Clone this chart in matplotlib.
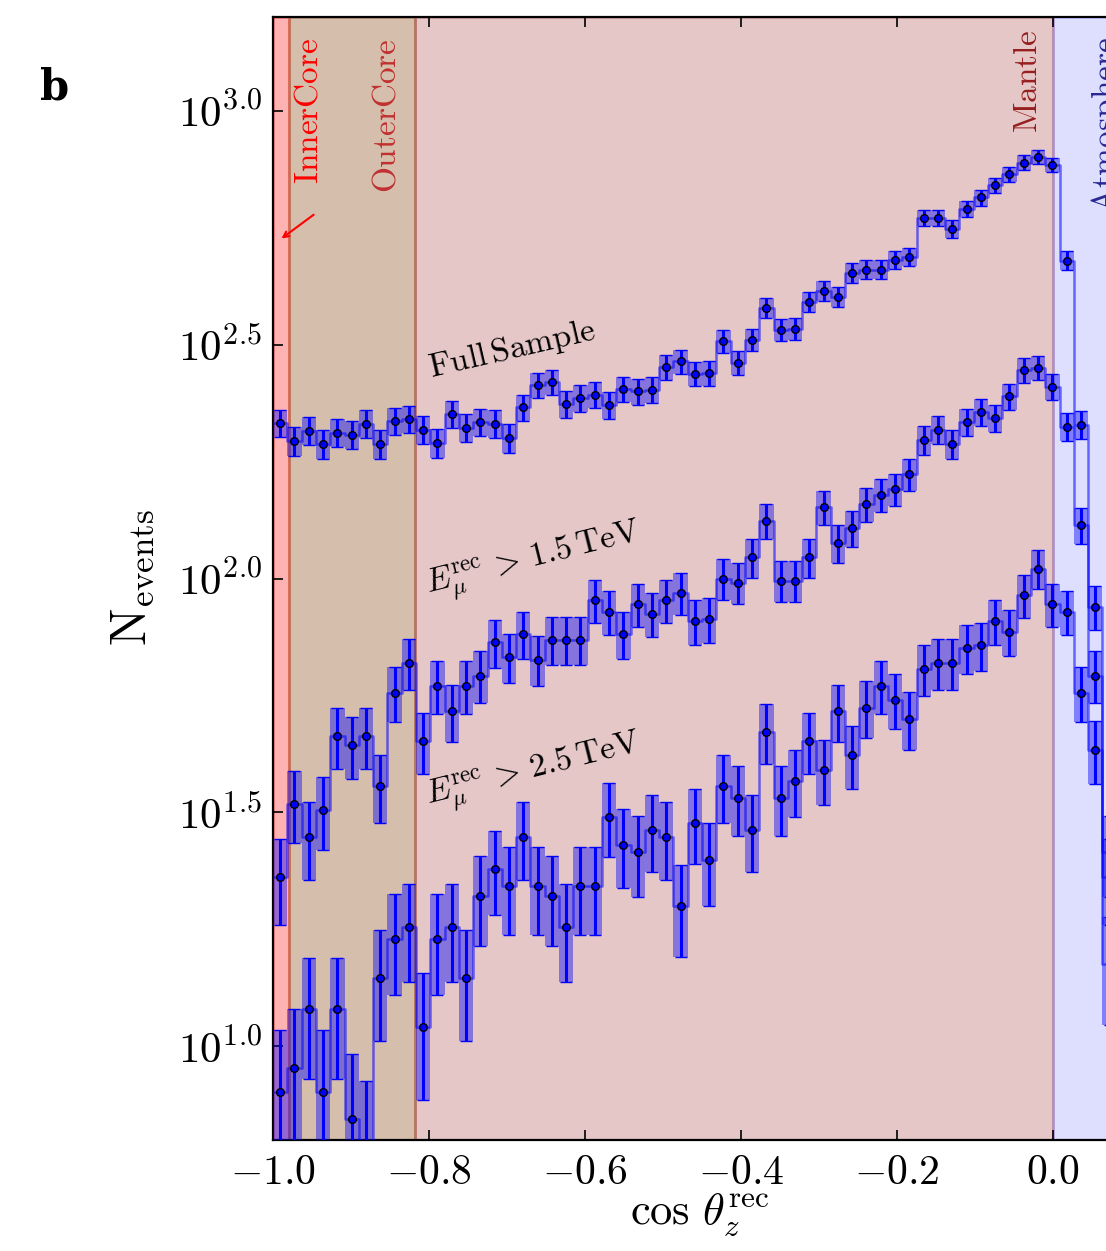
import matplotlib.pyplot as plt
import numpy as np
from matplotlib.ticker import NullLocator

plt.rcParams['mathtext.fontset'] = 'cm'
plt.rcParams['font.family'] = ['DejaVu Serif']

# 60 uniform bins in cos(zenith) from -1 to 0.1, only the first 59 are in view
edges = np.linspace(-1.0, 0.1, 61)

full_sample = [215, 197, 207, 194, 205, 203, 214, 194, 217, 219,
               208, 195, 225, 210, 216, 214, 200, 232, 259, 263,
               236, 243, 247, 235, 254, 251, 253, 283, 291, 274,
               275, 322, 289, 324, 379, 340, 342, 390, 412, 400,
               450, 457, 457, 480, 487, 590, 590, 559, 617, 652,
               692, 731, 774, 797, 766, 478, 213, 87, 26]
e_gt_15 = [23, 33, 28, 32, 46, 44, 46, 36, 57, 66,
           45, 59, 52, 59, 62, 73, 68, 76, 67, 74,
           74, 74, 90, 85, 76, 88, 84, 90, 93, 81,
           82, 100, 98, 111, 133, 99, 99, 111, 142, 119,
           128, 144, 151, 155, 167, 198, 208, 194, 216, 227,
           220, 245, 279, 282, 257, 211, 130, 62, 23]
e_gt_25 = [8, 9, 12, 8, 12, 7, 6, 14, 17, 18,
           11, 17, 18, 14, 21, 24, 22, 28, 22, 21,
           18, 22, 22, 31, 27, 26, 29, 28, 20, 30,
           25, 36, 34, 29, 47, 34, 37, 45, 39, 52,
           42, 53, 59, 55, 50, 64, 66, 66, 71, 72,
           81, 77, 92, 105, 88, 85, 57, 43, 15]

regions = [(-1.0, -0.98, 'red', 0.3),
           (-0.98, -0.8185, 'saddlebrown', 0.35),
           (-0.8185, 0.0, 'darkred', 0.22),
           (0.0, 0.1, 'blue', 0.13)]

xticks = [-1.0, -0.8, -0.6, -0.4, -0.2, 0.0]
ytick_exp = [1.0, 1.5, 2.0, 2.5, 3.0]

fig = plt.figure(figsize=(11.06, 12.51), dpi=100)
ax = fig.add_axes([273/1106, 111/1251, 858/1106, 1123/1251])

for x0, x1, c, a in regions:
    ax.axvspan(x0, x1, color=c, alpha=a, lw=2, zorder=1)

w = edges[1] - edges[0]


def draw(counts):
    n = np.array(counts, dtype=float)
    e = edges[:len(n) + 1]
    centers = 0.5 * (e[:-1] + e[1:])
    err = np.sqrt(n)
    ax.bar(centers, 2 * err, bottom=n - err, width=w, color='blue',
           alpha=0.42, lw=0, zorder=3)
    ax.step(e, np.r_[n, n[-1]], where='post', color='blue', alpha=0.55,
            lw=1.8, zorder=4)
    ax.errorbar(centers, n, yerr=err, fmt='o', color='blue', ecolor='blue',
                elinewidth=2.2, capsize=4.5, capthick=2, ms=5.5, mfc='blue',
                mec='black', mew=1.0, zorder=5)


for s in (full_sample, e_gt_15, e_gt_25):
    draw(s)

ax.set_yscale('log')
ax.set_xlim(-1.0, 0.1)
ax.set_ylim(10**0.8, 10**3.2)
ax.set_xticks(xticks)
ax.set_xticklabels([r'$%.1f$' % t for t in xticks], fontsize=30)
ax.set_yticks([10**e for e in ytick_exp])
ax.set_yticklabels([r'$10^{%.1f}$' % e for e in ytick_exp], fontsize=31)
ax.yaxis.set_minor_locator(NullLocator())
ax.tick_params(direction='in', length=7, width=1.2, top=True, right=True, pad=8)
for sp in ax.spines.values():
    sp.set_linewidth(1.6)

# region labels
ax.text(-0.955, 10**3.0, r'$\mathrm{InnerCore}$', color='red', rotation=90,
        ha='center', va='center', fontsize=24)
ax.text(-0.854, 10**2.99, r'$\mathrm{OuterCore}$', color='#c03030', rotation=90,
        ha='center', va='center', fontsize=24)
ax.text(-0.032, 10**3.063, r'$\mathrm{Mantle}$', color='#961e1e', rotation=90,
        ha='center', va='center', fontsize=24)
ax.text(0.068, 10**2.97, r'$\mathrm{Atmosphere}$', color='#282896', rotation=90,
        ha='center', va='center', fontsize=24)
ax.annotate('', xy=(-0.992, 10**2.723), xytext=(-0.945, 10**2.781),
            arrowprops=dict(arrowstyle='->', color='red', lw=1.5))

# series labels
ax.text(-0.693, 10**2.49, r'$\mathrm{Full\,Sample}$', rotation=13,
        ha='center', va='center', fontsize=24)
ax.text(-0.665, 10**2.035, r'$E_{\mu}^{\mathrm{rec}}\, >\, 1.5\,\mathrm{TeV}$',
        rotation=14, ha='center', va='center', fontsize=24)
ax.text(-0.665, 10**1.585, r'$E_{\mu}^{\mathrm{rec}}\, >\, 2.5\,\mathrm{TeV}$',
        rotation=14, ha='center', va='center', fontsize=24)

fig.text(133/1106, 1 - 578/1251, r'$\mathrm{N_{events}}$', rotation=90,
         ha='center', va='center', fontsize=36)
fig.text(700/1106, 1 - 1215/1251, r'$\cos\,\theta_z^{\mathrm{rec}}$',
         ha='center', va='center', fontsize=32)
fig.text(55/1106, 1 - 88/1251, 'b', fontweight='bold', fontsize=30,
         ha='center', va='center')

fig.savefig('out.png', dpi=100)
